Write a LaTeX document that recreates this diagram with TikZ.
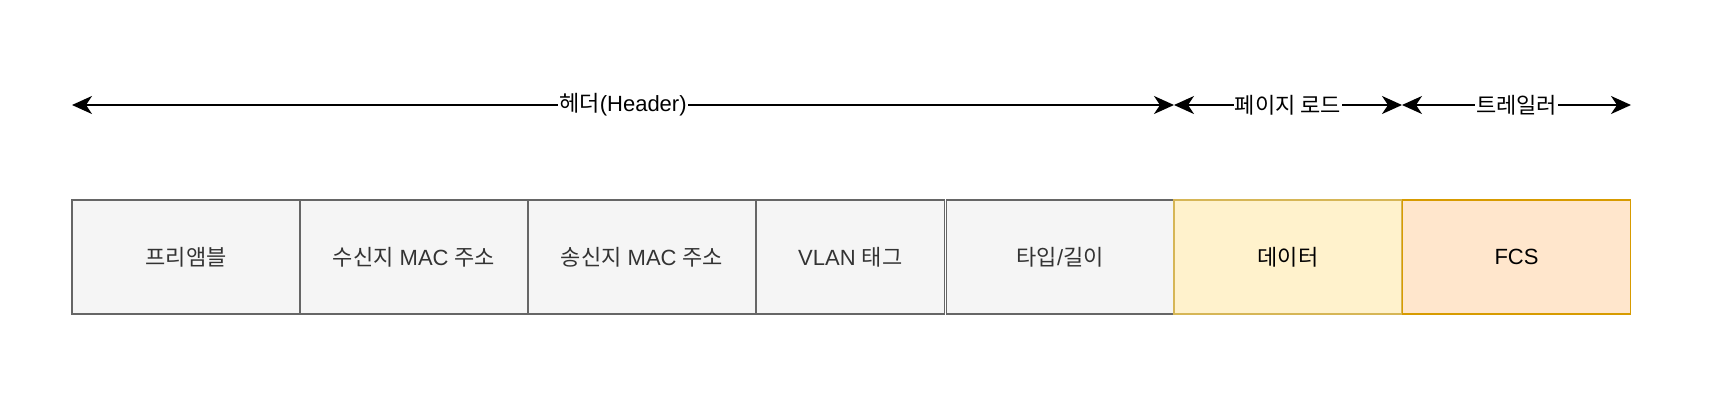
\documentclass[tikz,border=0pt]{standalone}
\usepackage{fontspec}
\setmainfont{Liberation Sans}
\newfontfamily\kr{Noto Sans CJK KR}
\usetikzlibrary{arrows.meta}
\definecolor{grayfill}{HTML}{F5F5F5}
\definecolor{graydraw}{HTML}{666666}
\definecolor{graytext}{HTML}{333333}
\definecolor{yelfill}{HTML}{FFF2CC}
\definecolor{yeldraw}{HTML}{D6B656}
\definecolor{orafill}{HTML}{FFE6CC}
\definecolor{oradraw}{HTML}{D79B00}
\tikzset{
  field/.style={rectangle, line width=1.9pt, minimum height=114pt, inner sep=0pt,
    font=\fontsize{22}{26}\selectfont},
  grayfield/.style={field, fill=grayfill, draw=graydraw, text=graytext},
  yelfield/.style={field, fill=yelfill, draw=yeldraw, text=black},
  orafield/.style={field, fill=orafill, draw=oradraw, text=black},
  span/.style={line width=1.9pt, {Stealth[length=20pt,width=18pt,inset=6pt]}-{Stealth[length=20pt,width=18pt,inset=6pt]}},
  spanlabel/.style={fill=white, inner sep=1pt, font=\fontsize{22}{26}\selectfont}
}
\begin{document}
\begin{tikzpicture}[x=1pt,y=-1pt]
\useasboundingbox (0,0) rectangle (1732,408);
\fill[white] (0,0) rectangle (1732,408);
% fields
\node[grayfield, minimum width=228pt] (pre) at (186,257) {\kr 프리앰블};
\node[grayfield, minimum width=228pt] (dst) at (414,257) {{\kr 수신지} MAC {\kr 주소}};
\node[grayfield, minimum width=228pt] (src) at (642,257) {{\kr 송신지} MAC {\kr 주소}};
\node[grayfield, minimum width=188.5pt] (vlan) at (850.25,257) {VLAN {\kr 태그}};
\node[grayfield, minimum width=227.5pt] (type) at (1060.25,257) {{\kr 타입}/{\kr 길이}};
\node[yelfield, minimum width=228pt] (data) at (1288,257) {\kr 데이터};
\node[orafield, minimum width=228pt] (fcs) at (1516.5,257) {FCS};
% span coordinates
\coordinate (h1) at (72,105);
\coordinate (h2) at (1174,105);
\coordinate (p2) at (1402,105);
\coordinate (t2) at (1631,105);
\draw[span] (h1) -- (h2) node[midway, spanlabel] {{\kr 헤더}(Header)};
\draw[span] (h2) -- (p2) node[midway, spanlabel] {\kr 페이지 로드};
\draw[span] (p2) -- (t2) node[midway, spanlabel] {\kr 트레일러};
\end{tikzpicture}
\end{document}
